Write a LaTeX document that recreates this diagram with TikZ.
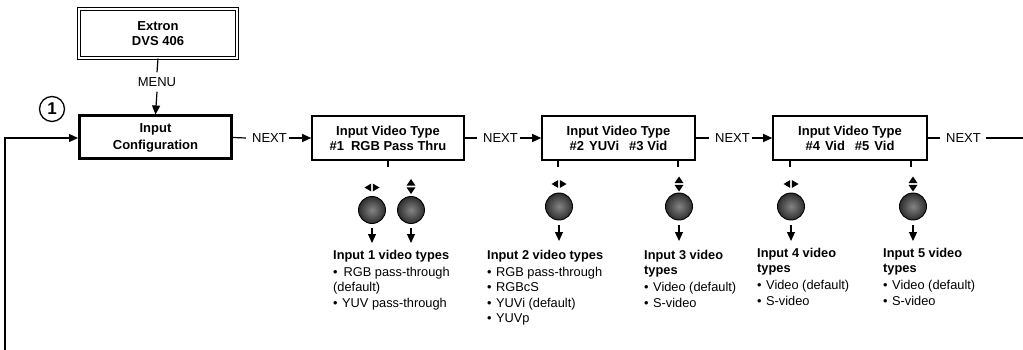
\documentclass[tikz,border=0pt]{standalone}
\usepackage{fontspec}
\setmainfont{Liberation Sans}
\usetikzlibrary{arrows.meta}
\newcommand\bul{•\hspace{4.5pt}}
\tikzset{
  lrsym/.pic={\fill (-0.8,-4) -- (-7.5,0) -- (-0.8,4) -- cycle; \fill (0.8,-4) -- (7.5,0) -- (0.8,4) -- cycle;},
  udsym/.pic={\fill (-4.5,-0.8) -- (0,-7.5) -- (4.5,-0.8) -- cycle; \fill (-4.5,0.8) -- (0,7.5) -- (4.5,0.8) -- cycle;}
}
\begin{document}
\begin{tikzpicture}[x=1pt,y=-1pt,
  every node/.style={font=\fontsize{13}{15.5}\selectfont},
  menubox/.style={draw, line width=1.6pt, minimum height=44pt, inner sep=0pt, align=center,
    font=\fontsize{13}{15}\selectfont\bfseries},
  nextlbl/.style={inner sep=0pt},
  conn/.style={line width=1.2pt},
  arr/.style={conn, -{Triangle[length=9pt,width=8pt]}},
  knob/.style={circle, minimum size=27pt, inner sep=0pt, draw=black, line width=0.9pt,
    inner color=black!48, outer color=black!82},
  tlist/.style={anchor=north west, inner sep=0pt, align=left, font=\fontsize{12.8}{15.5}\selectfont},
]
\useasboundingbox (0,0) rectangle (1023,350);

% top device
\node[draw, double, double distance=2pt, line width=1pt, minimum width=158pt, minimum height=49pt,
  inner sep=0pt, align=center, font=\fontsize{13}{15}\selectfont\bfseries] (ext) at (158,33.5) {Extron\\DVS 406};
\node[inner sep=5pt] (menu) at (157,82) {MENU};
\node[draw, line width=3pt, minimum width=152pt, minimum height=43pt, inner sep=0pt, align=center,
  font=\fontsize{13}{17}\selectfont\bfseries] (cfg) at (155.5,137.5) {Input\\Configuration};
\node[circle, draw, line width=1.3pt, minimum size=25pt, inner sep=0pt,
  font=\fontsize{17}{17}\selectfont\bfseries] (one) at (52,109) {1};

\draw[conn] (ext.south) -- (menu.north);
\draw[arr] (menu.south) -- (cfg.north);

% menu boxes
\node[menubox, minimum width=152pt] (b2) at (388,138) {Input Video Type\\\#1\hspace{7pt}RGB Pass Thru};
\node[menubox, minimum width=153pt] (b3) at (618.5,138) {Input Video Type\\\#2\hspace{5pt}YUVi\hspace{10pt}\#3 Vid};
\node[menubox, minimum width=154pt] (b4) at (850,138) {Input Video Type\\\#4\hspace{5pt}Vid\hspace{10pt}\#5\hspace{5pt}Vid};

% NEXT labels
\node[nextlbl] (n1) at (269.5,138) {NEXT};
\node[nextlbl] (n2) at (500.5,138) {NEXT};
\node[nextlbl] (n3) at (732.5,138) {NEXT};
\node[nextlbl] (n4) at (963.5,138) {NEXT};
\coordinate (rend) at (1023,138);
\coordinate (rbot) at (5,350);
\coordinate (rcorner) at (5,138);

\draw[conn] (cfg.east) -- ([xshift=-6pt]n1.west);
\draw[arr] ([xshift=1.5pt]n1.east) -- (b2.west);
\draw[conn] (b2.east) -- ([xshift=-6pt]n2.west);
\draw[arr] ([xshift=1.5pt]n2.east) -- (b3.west);
\draw[conn] (b3.east) -- ([xshift=-6pt]n3.west);
\draw[arr] ([xshift=1.5pt]n3.east) -- (b4.west);
\draw[conn] (b4.east) -- ([xshift=-6pt]n4.west);
\draw[conn] ([xshift=5pt]n4.east) -- (rend);
\draw[arr] (rbot) -- (rcorner) -- (cfg.west |- rcorner);

% ticks under boxes
\coordinate (t1) at (388,167);
\coordinate (t2) at (558,167);
\coordinate (t3) at (678,167);
\coordinate (t4) at (790,167);
\coordinate (t5) at (911,167);
\draw[conn] (b2.south -| t1) -- (t1);
\draw[conn] (b3.south -| t2) -- (t2);
\draw[conn] (b3.south -| t3) -- (t3);
\draw[conn] (b4.south -| t4) -- (t4);
\draw[conn] (b4.south -| t5) -- (t5);

% knobs
\node[knob] (k1) at (372,210) {};
\node[knob] (k2) at (411,210) {};
\node[knob] (k3) at (559,206.5) {};
\node[knob] (k4) at (679,206.5) {};
\node[knob] (k5) at (791,206.5) {};
\node[knob] (k6) at (913,206.5) {};
\pic at (372,187.5) {lrsym};
\pic at (411,186.5) {udsym};
\pic at (559,184) {lrsym};
\pic at (679,184) {udsym};
\pic at (791,184) {lrsym};
\pic at (913,184) {udsym};

\coordinate (a1) at (372,243);
\coordinate (a2) at (411,243);
\coordinate (a3) at (559,241);
\coordinate (a4) at (679,241);
\coordinate (a5) at (791,241);
\coordinate (a6) at (913,241);
\foreach \k/\a in {k1/a1,k2/a2,k3/a3,k4/a4,k5/a5,k6/a6}
  \draw[arr, shorten <=4.5pt] (\k) -- (\a);

% type lists
\node[tlist] (l1) at (333,250) {{\bfseries Input 1 video types}\\[1.5pt]
  •\hspace{6pt}RGB pass-through\\(default)\\\bul YUV pass-through};
\node[tlist] (l2) at (487,250) {{\bfseries Input 2 video types}\\[1.5pt]
  \bul RGB pass-through\\\bul RGBcS\\\bul YUVi (default)\\\bul YUVp};
\node[tlist] (l3) at (644,250) {{\bfseries Input 3 video}\\{\bfseries types}\\[1.5pt]
  \bul Video (default)\\\bul S-video};
\node[tlist] (l4) at (757,248) {{\bfseries Input 4 video}\\{\bfseries types}\\[1.5pt]
  \bul Video (default)\\\bul S-video};
\node[tlist] (l5) at (883,248) {{\bfseries Input 5 video}\\{\bfseries types}\\[1.5pt]
  \bul Video (default)\\\bul S-video};
\end{tikzpicture}
\end{document}
